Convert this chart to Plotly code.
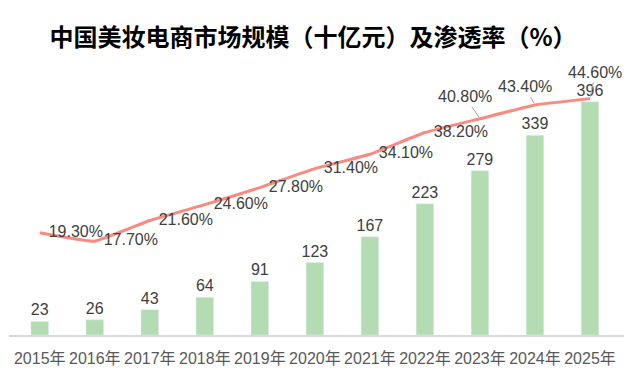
import plotly.graph_objects as go

years = ["2015年", "2016年", "2017年", "2018年", "2019年", "2020年", "2021年", "2022年", "2023年", "2024年", "2025年"]
market_size = [23, 26, 43, 64, 91, 123, 167, 223, 279, 339, 396]
penetration = [19.3, 17.7, 21.6, 24.6, 27.8, 31.4, 34.1, 38.2, 40.8, 43.4, 44.6]
pct_labels = ["19.30%", "17.70%", "21.60%", "24.60%", "27.80%", "31.40%", "34.10%", "38.20%", "40.80%", "43.40%", "44.60%"]

FONT = "Liberation Sans, Arial, Noto Sans CJK SC, sans-serif"
n_right = 8  # labels placed to the right of the point

fig = go.Figure()
fig.add_trace(go.Bar(
    x=years, y=market_size, marker_color="#b3dcb3", width=0.32,
    text=[str(v) for v in market_size], textposition="outside", constraintext="none",
    textfont=dict(size=16, color="#404040", family=FONT), cliponaxis=False,
    showlegend=False, hoverinfo="skip",
))
fig.add_trace(go.Scatter(
    x=years, y=penetration, yaxis="y2", mode="lines+text",
    line=dict(color="#f98a80", width=3, shape="spline", smoothing=0.3),
    text=["  " + t for t in pct_labels[:n_right]] + [""] * (len(years) - n_right),
    textposition="middle right",
    textfont=dict(size=16, color="#404040", family=FONT), cliponaxis=False,
    showlegend=False, hoverinfo="skip",
))

offsets = [(-15, -22), (-10, -18), (5, -26)]
for i, (ax, ay) in zip(range(n_right, len(years)), offsets):
    fig.add_annotation(
        x=years[i], y=penetration[i], yref="y2", xref="x",
        text=pct_labels[i], showarrow=True, arrowhead=0, arrowwidth=1,
        arrowcolor="#a6a6a6", ax=ax, ay=ay, standoff=2,
        font=dict(size=16, color="#404040", family=FONT),
    )

fig.update_layout(
    width=635, height=391,
    margin=dict(l=9, r=11, t=70, b=56),
    paper_bgcolor="white", plot_bgcolor="white",
    title=dict(text="<b>中国美妆电商市场规模（十亿元）及渗透率（%）</b>",
               x=313/635, xanchor="center", y=1-38/391, yanchor="middle",
               font=dict(size=24, color="#000000", family="Noto Sans CJK SC, sans-serif")),
    xaxis=dict(showline=True, linecolor="#d9d9d9", linewidth=1.5, automargin=False,
               ticks="outside", ticklen=8, tickcolor="rgba(0,0,0,0)",
               tickfont=dict(size=16, color="#595959", family=FONT)),
    yaxis=dict(range=[0, 450], visible=False, showgrid=False, automargin=False),
    yaxis2=dict(range=[0, 50], overlaying="y", visible=False, showgrid=False, automargin=False),
    bargap=0.68,
)

fig.write_html("out.html", config={"displayModeBar": False},
               post_script="document.body.style.margin='0';")
